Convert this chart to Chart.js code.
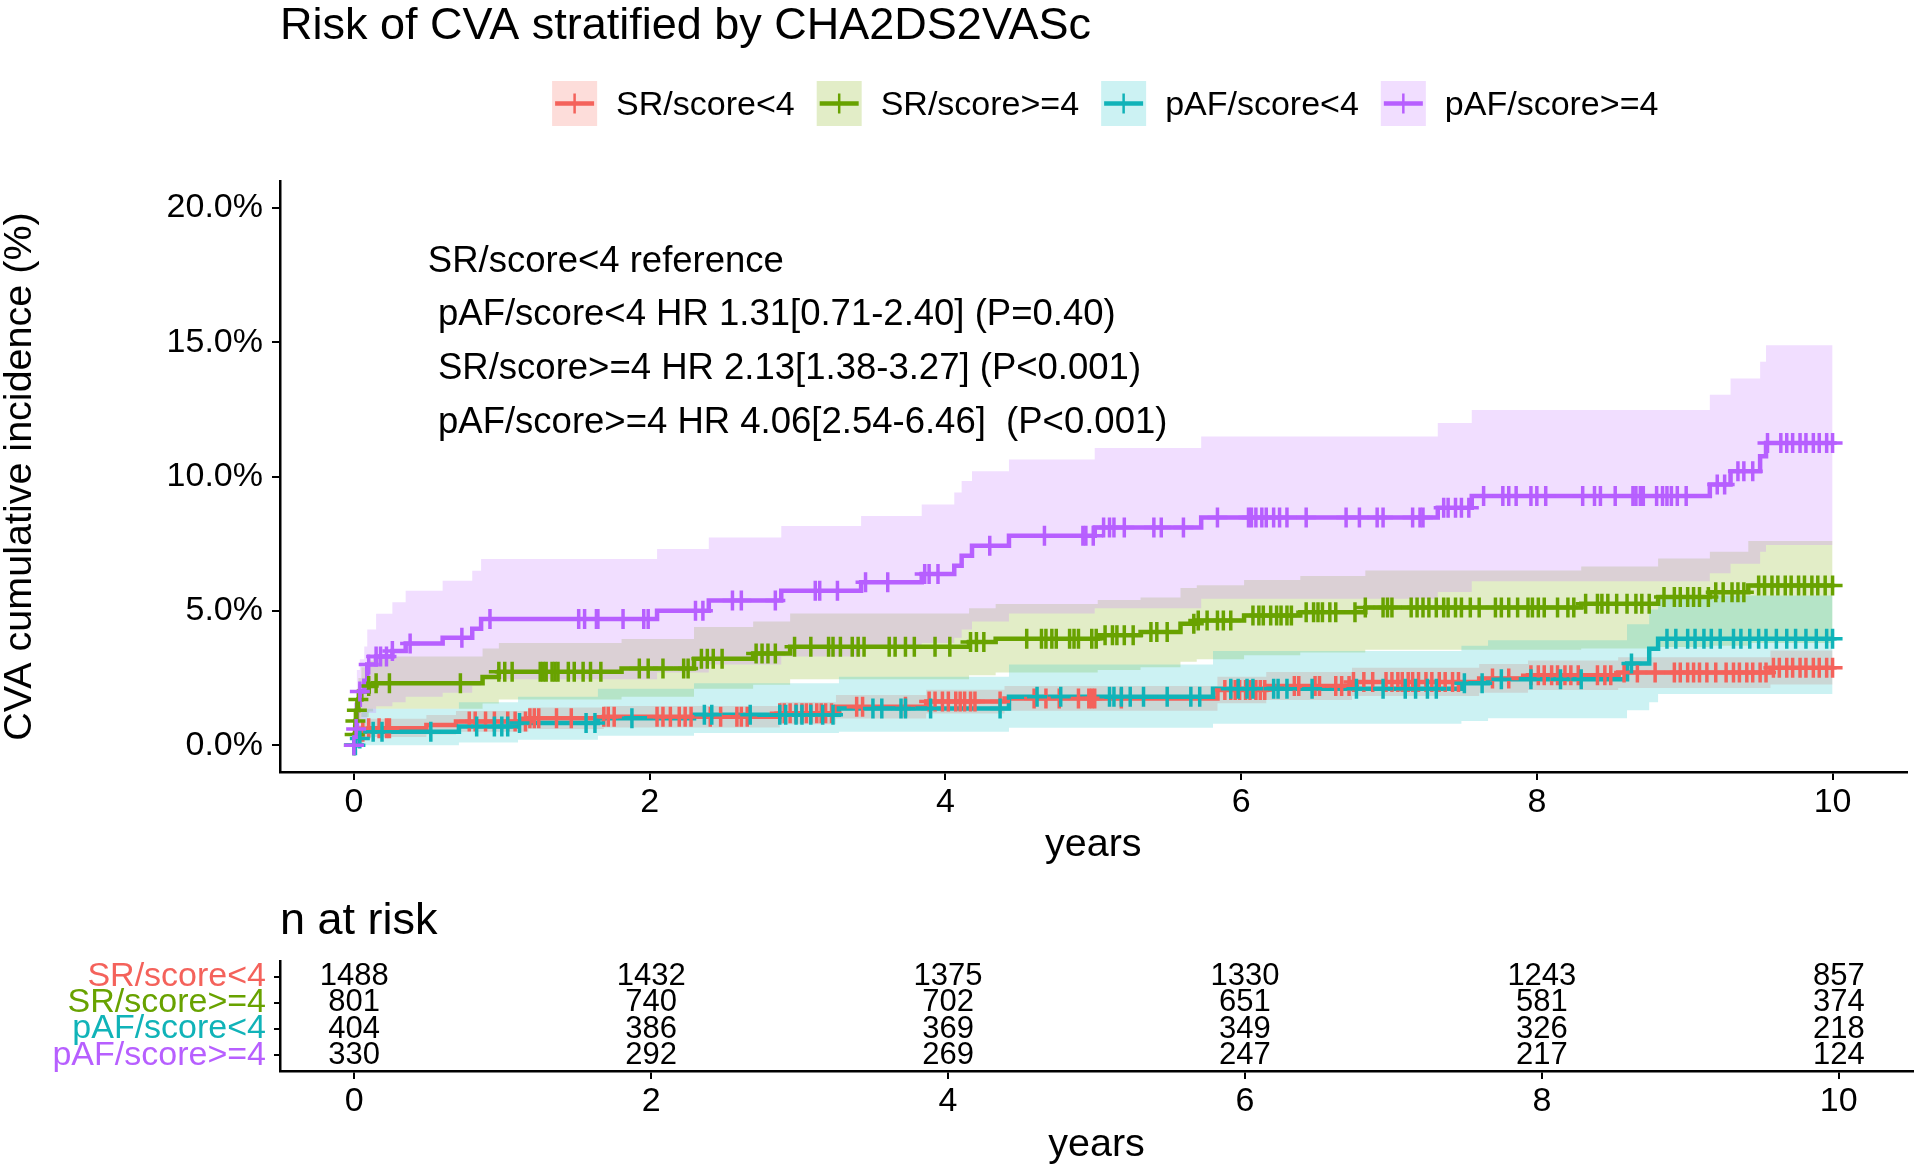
<!DOCTYPE html>
<html>
<head>
<meta charset="utf-8">
<script src="https://cdn.jsdelivr.net/npm/chart.js@4.4.0/dist/chart.umd.min.js"></script>
<style>
  html, body { margin: 0; padding: 0; background: #fff; }
  #wrap { position: relative; width: 1920px; height: 1171px; overflow: hidden; }
  #main { position: absolute; left: 0; top: 0; }
  #risk { position: absolute; left: 0; top: 880px; }
</style>
</head>
<body>
<div id="wrap">
  <canvas id="main" width="1920" height="870"></canvas>
  <canvas id="risk" width="1920" height="291"></canvas>
</div>
<script>
// ---- data (cumulative incidence in %, time in years) ----
const groupNames = ['SR/score<4', 'SR/score>=4', 'pAF/score<4', 'pAF/score>=4'];

const redTime = [0, 0.01, 0.03, 0.06, 0.1, 0.49, 0.69, 1.18, 1.69, 2.88, 3.26, 3.87, 4.4, 5.84, 6.17, 6.75, 7.61, 7.94, 8.55, 9.58, 10];
const redEst  = [0, 0.15, 0.35, 0.5, 0.63, 0.75, 0.88, 1.0, 1.06, 1.19, 1.43, 1.62, 1.74, 2.05, 2.2, 2.35, 2.48, 2.6, 2.7, 2.88, 2.88];
const redHi   = [0, 0.4, 0.7, 0.85, 0.98, 1.12, 1.27, 1.4, 1.46, 1.6, 1.87, 2.06, 2.2, 2.55, 2.72, 2.88, 3.02, 3.15, 3.27, 3.52, 3.52];
const redLo   = [0, 0, 0.08, 0.18, 0.3, 0.4, 0.5, 0.6, 0.66, 0.78, 0.99, 1.18, 1.28, 1.56, 1.68, 1.83, 1.95, 2.05, 2.13, 2.26, 2.26];

const greenTime = [0, 0.005, 0.01, 0.02, 0.03, 0.05, 0.1, 0.13, 0.87, 0.98, 1.81, 2.3, 2.7, 2.95, 4.16, 4.34, 5.03, 5.32, 5.59, 5.7, 6.02, 6.4, 6.84, 8.3, 8.82, 9.17, 9.43, 10];
const greenEst  = [0, 0.4, 0.9, 1.3, 1.7, 2.0, 2.2, 2.3, 2.54, 2.73, 2.85, 3.22, 3.41, 3.66, 3.84, 3.96, 4.09, 4.21, 4.52, 4.64, 4.83, 4.95, 5.12, 5.26, 5.51, 5.69, 5.94, 5.94];
const greenHi   = [0, 0.9, 1.6, 2.1, 2.5, 2.9, 3.15, 3.3, 3.6, 3.8, 3.95, 4.4, 4.6, 4.9, 5.1, 5.25, 5.4, 5.5, 5.85, 5.95, 6.15, 6.3, 6.5, 6.65, 6.95, 7.2, 7.6, 7.6];
const greenLo   = [0, 0, 0.2, 0.5, 0.8, 1.05, 1.25, 1.35, 1.55, 1.7, 1.8, 2.1, 2.25, 2.45, 2.6, 2.7, 2.8, 2.9, 3.1, 3.2, 3.35, 3.45, 3.55, 3.6, 3.65, 3.7, 3.8, 3.8];

const cyanTime = [0, 0.02, 0.05, 0.71, 1.11, 1.65, 2.3, 3.28, 4.43, 5.81, 7.49, 7.67, 8.61, 8.76, 8.82, 10];
const cyanEst  = [0, 0.25, 0.5, 0.69, 0.82, 1.0, 1.13, 1.36, 1.8, 2.1, 2.3, 2.45, 3.04, 3.59, 3.96, 3.96];
const cyanHi   = [0, 0.75, 1.35, 1.6, 1.8, 2.1, 2.3, 2.55, 3.0, 3.5, 3.7, 3.9, 4.5, 5.05, 5.57, 5.57];
const cyanLo   = [0, 0, 0, 0.1, 0.2, 0.35, 0.45, 0.5, 0.65, 0.8, 0.9, 1.0, 1.3, 1.6, 1.9, 1.9];

const purpleTime = [0, 0.01, 0.02, 0.04, 0.07, 0.09, 0.15, 0.26, 0.35, 0.6, 0.8, 0.86, 2.05, 2.4, 2.89, 3.43, 3.84, 4.06, 4.11, 4.18, 4.43, 5.01, 5.73, 7.33, 7.56, 9.17, 9.31, 9.51, 9.55, 10];
const purpleEst  = [0, 0.6, 1.5, 2.0, 2.4, 3.0, 3.3, 3.5, 3.78, 4.0, 4.33, 4.7, 5.0, 5.38, 5.75, 6.06, 6.37, 6.68, 7.05, 7.42, 7.79, 8.1, 8.47, 8.84, 9.27, 9.7, 10.2, 10.75, 11.25, 11.25];
const purpleHi   = [0, 1.5, 2.8, 3.2, 3.67, 4.3, 4.89, 5.32, 5.75, 6.12, 6.49, 6.93, 7.3, 7.73, 8.16, 8.53, 8.96, 9.4, 9.83, 10.2, 10.63, 11.06, 11.49, 11.99, 12.48, 13.04, 13.65, 14.27, 14.89, 14.89];
const purpleLo   = [0, 0, 0.3, 0.6, 0.85, 1.2, 1.45, 1.6, 1.8, 1.95, 2.2, 2.45, 2.7, 3.0, 3.3, 3.6, 3.8, 4.0, 4.3, 4.6, 4.9, 5.1, 5.45, 5.7, 6.1, 6.4, 6.75, 7.2, 7.45, 7.45];

// censoring times
const redCensor = [0.06, 0.1, 0.17, 0.22, 0.24, 0.78, 0.82, 0.89, 0.95, 1.04, 1.09, 1.16, 1.19, 1.22, 1.25, 1.37, 1.47, 1.69, 1.72, 1.76, 2.05, 2.09, 2.14, 2.2, 2.24, 2.28, 2.41, 2.48, 2.59, 2.62, 2.66, 2.88, 2.91, 2.95, 2.99, 3.03, 3.06, 3.09, 3.13, 3.16, 3.19, 3.23, 3.4, 3.44, 3.73, 3.89, 3.93, 3.98, 4.02, 4.07, 4.1, 4.13, 4.17, 4.2, 4.37, 4.6, 4.68, 4.77, 4.9, 4.97, 4.99, 5.01, 5.19, 5.89, 5.93, 5.96, 5.99, 6.03, 6.06, 6.1, 6.13, 6.16, 6.36, 6.39, 6.5, 6.53, 6.64, 6.68, 6.73, 6.76, 6.83, 6.89, 6.98, 7.02, 7.06, 7.09, 7.13, 7.16, 7.2, 7.25, 7.29, 7.34, 7.38, 7.43, 7.47, 7.7, 7.81, 7.96, 8.01, 8.05, 8.1, 8.14, 8.19, 8.23, 8.28, 8.41, 8.46, 8.5, 8.59, 8.68, 8.8, 8.93, 8.97, 9.02, 9.06, 9.1, 9.15, 9.21, 9.28, 9.33, 9.37, 9.42, 9.46, 9.51, 9.55, 9.6, 9.64, 9.69, 9.73, 9.78, 9.82, 9.87, 9.91, 9.96, 10];
const greenCensor = [0, 0.005, 0.01, 0.02, 0.03, 0.1, 0.15, 0.24, 0.72, 0.98, 1.02, 1.07, 1.26, 1.28, 1.3, 1.34, 1.36, 1.38, 1.45, 1.49, 1.55, 1.6, 1.67, 1.93, 1.99, 2.09, 2.23, 2.26, 2.35, 2.39, 2.43, 2.49, 2.72, 2.76, 2.8, 2.85, 2.98, 3.09, 3.21, 3.24, 3.29, 3.37, 3.41, 3.45, 3.62, 3.66, 3.73, 3.79, 3.93, 4.03, 4.17, 4.21, 4.26, 4.55, 4.65, 4.68, 4.72, 4.75, 4.84, 4.87, 4.9, 4.99, 5.02, 5.08, 5.13, 5.16, 5.21, 5.27, 5.39, 5.43, 5.5, 5.68, 5.71, 5.77, 5.84, 5.88, 5.93, 6.08, 6.12, 6.15, 6.2, 6.24, 6.27, 6.31, 6.34, 6.44, 6.49, 6.52, 6.55, 6.6, 6.64, 6.77, 6.84, 6.96, 6.99, 7.02, 7.15, 7.19, 7.23, 7.27, 7.32, 7.37, 7.4, 7.45, 7.49, 7.55, 7.61, 7.72, 7.76, 7.81, 7.87, 7.94, 7.97, 8.01, 8.05, 8.14, 8.21, 8.25, 8.33, 8.41, 8.44, 8.48, 8.54, 8.61, 8.67, 8.71, 8.76, 8.86, 8.93, 8.97, 9.02, 9.06, 9.1, 9.16, 9.21, 9.26, 9.32, 9.36, 9.4, 9.5, 9.54, 9.59, 9.63, 9.68, 9.72, 9.77, 9.81, 9.86, 9.9, 9.95, 10];
const cyanCensor = [0, 0.01, 0.04, 0.13, 0.19, 0.52, 0.83, 0.95, 1.0, 1.04, 1.12, 1.57, 1.63, 1.88, 2.37, 2.42, 2.68, 2.88, 2.92, 2.99, 3.03, 3.09, 3.17, 3.24, 3.51, 3.57, 3.7, 3.73, 3.9, 4.37, 4.62, 4.78, 5.11, 5.14, 5.19, 5.25, 5.34, 5.5, 5.66, 5.72, 5.93, 5.98, 6.04, 6.08, 6.22, 6.25, 6.31, 6.48, 6.78, 6.96, 7.11, 7.18, 7.26, 7.32, 7.51, 7.63, 7.76, 7.96, 8.16, 8.3, 8.64, 8.88, 8.94, 9.02, 9.07, 9.13, 9.18, 9.24, 9.33, 9.38, 9.44, 9.5, 9.55, 9.62, 9.69, 9.75, 9.82, 9.89, 9.96, 10];
const purpleCensor = [0, 0.015, 0.04, 0.1, 0.15, 0.18, 0.22, 0.26, 0.38, 0.73, 0.92, 1.52, 1.56, 1.64, 1.65, 1.82, 1.96, 1.99, 2.31, 2.36, 2.56, 2.62, 2.85, 3.12, 3.15, 3.27, 3.46, 3.61, 3.86, 3.89, 3.95, 4.3, 4.67, 4.93, 4.95, 5.0, 5.07, 5.11, 5.14, 5.21, 5.41, 5.46, 5.61, 5.84, 6.05, 6.07, 6.1, 6.14, 6.17, 6.22, 6.26, 6.31, 6.44, 6.71, 6.8, 6.92, 6.96, 7.16, 7.21, 7.23, 7.37, 7.4, 7.45, 7.49, 7.54, 7.64, 7.77, 7.81, 7.86, 7.96, 8.0, 8.06, 8.31, 8.39, 8.43, 8.53, 8.65, 8.67, 8.7, 8.72, 8.81, 8.85, 8.88, 8.91, 8.95, 9.01, 9.22, 9.27, 9.36, 9.4, 9.46, 9.56, 9.65, 9.69, 9.73, 9.78, 9.82, 9.87, 9.91, 9.96, 10];

// axis ticks
const xTicks = [0, 2, 4, 6, 8, 10];
const yTicks = [0, 5, 10, 15, 20];

// annotation text, anchored at (years, %)
const annotLines = ['SR/score<4 reference', ' pAF/score<4 HR 1.31[0.71-2.40] (P=0.40)', ' SR/score>=4 HR 2.13[1.38-3.27] (P<0.001)', ' pAF/score>=4 HR 4.06[2.54-6.46]  (P<0.001)'];
const annotX = 0.5;
const annotY = [18, 16, 14, 12];

// number at risk
const riskTimes = [0, 2, 4, 6, 8, 10];
const riskSRlow = [1488, 1432, 1375, 1330, 1243, 857];
const riskSRhigh = [801, 740, 702, 651, 581, 374];
const riskPAFlow = [404, 386, 369, 349, 326, 218];
const riskPAFhigh = [330, 292, 269, 247, 217, 124];

// ---- setup ----
const FONT = "'Liberation Sans', Arial, Helvetica, sans-serif";
Chart.defaults.font.family = FONT;
Chart.defaults.color = '#000';

const lineColors = ['#F4625B', '#68A200', '#10B3B8', '#B75FFF'];
const bandColors = ['rgba(248,118,109,0.25)', 'rgba(124,174,0,0.22)', 'rgba(0,191,196,0.2)', 'rgba(199,124,255,0.25)'];

const groups = [
  {time: redTime, est: redEst, hi: redHi, lo: redLo, cens: redCensor},
  {time: greenTime, est: greenEst, hi: greenHi, lo: greenLo, cens: greenCensor},
  {time: cyanTime, est: cyanEst, hi: cyanHi, lo: cyanLo, cens: cyanCensor},
  {time: purpleTime, est: purpleEst, hi: purpleHi, lo: purpleLo, cens: purpleCensor}
];
const riskRows = [riskSRlow, riskSRhigh, riskPAFlow, riskPAFhigh];

function pts(times, vals) {
  return times.map(function(t, i) { return {x: t, y: vals[i]}; });
}

// value of a step curve at time t
function stepValue(times, vals, t) {
  let v = vals[0];
  for (let i = 0; i < times.length; i++) {
    if (times[i] <= t) v = vals[i]; else break;
  }
  return v;
}

const datasets = [];
groups.forEach(function(g, i) {
  datasets.push({
    type: 'line', data: pts(g.time, g.hi), stepped: true,
    borderWidth: 0, borderColor: 'transparent', pointRadius: 0,
    backgroundColor: bandColors[i], fill: '+1', order: 40 - i
  });
  datasets.push({
    type: 'line', data: pts(g.time, g.lo), stepped: true,
    borderWidth: 0, borderColor: 'transparent', pointRadius: 0,
    fill: false, order: 40 - i
  });
});
groups.forEach(function(g, i) {
  datasets.push({
    type: 'line', label: groupNames[i], data: pts(g.time, g.est), stepped: true,
    borderColor: lineColors[i], borderWidth: 4.5, pointRadius: 0, fill: false,
    borderJoinStyle: 'miter', order: 20 - i
  });
});
groups.forEach(function(g, i) {
  datasets.push({
    type: 'scatter',
    data: g.cens.map(function(t) { return {x: t, y: stepValue(g.time, g.est, t)}; }),
    pointStyle: 'cross', pointRadius: 10, borderColor: lineColors[i], borderWidth: 3.5,
    showLine: false, order: 10 - i
  });
});

const mainDecor = {
  id: 'mainDecor',
  afterDraw(chart) {
    const ctx = chart.ctx;
    const area = chart.chartArea;
    const xs = chart.scales.x, ys = chart.scales.y;
    ctx.save();
    ctx.fillStyle = '#000';
    ctx.textAlign = 'left';
    ctx.textBaseline = 'alphabetic';
    ctx.font = '45px ' + FONT;
    ctx.fillText('Risk of CVA stratified by CHA2DS2VASc', area.left, 39);

    // legend, centred a little right of the panel centre
    ctx.font = '34px ' + FONT;
    const key = 45, gapKT = 19, gapTK = 22;
    const widths = groupNames.map(function(n) { return ctx.measureText(n).width; });
    let total = gapTK * (groupNames.length - 1);
    widths.forEach(function(w) { total += key + gapKT + w; });
    let lx = (area.left + area.right) / 2 + 12 - total / 2;
    const keyTop = 81;
    groupNames.forEach(function(name, i) {
      ctx.fillStyle = bandColors[i];
      ctx.fillRect(lx, keyTop, key, key);
      ctx.strokeStyle = lineColors[i];
      ctx.lineWidth = 4.5;
      ctx.beginPath();
      ctx.moveTo(lx + 3, keyTop + key / 2);
      ctx.lineTo(lx + key - 3, keyTop + key / 2);
      ctx.stroke();
      ctx.lineWidth = 2.5;
      ctx.beginPath();
      ctx.moveTo(lx + key / 2, keyTop + key / 2 - 10);
      ctx.lineTo(lx + key / 2, keyTop + key / 2 + 10);
      ctx.stroke();
      ctx.fillStyle = '#000';
      ctx.fillText(name, lx + key + gapKT, 115);
      lx += key + gapKT + widths[i] + gapTK;
    });

    // HR annotation
    ctx.font = '36.5px ' + FONT;
    ctx.textBaseline = 'middle';
    annotLines.forEach(function(s, i) {
      ctx.fillText(s, xs.getPixelForValue(annotX), ys.getPixelForValue(annotY[i]));
    });
    ctx.restore();
  }
};

new Chart(document.getElementById('main'), {
  type: 'line',
  data: { datasets: datasets },
  options: {
    responsive: false,
    animation: false,
    events: [],
    layout: { padding: { top: 181, right: 7, left: 0, bottom: 0 } },
    plugins: { legend: { display: false }, tooltip: { enabled: false } },
    scales: {
      x: {
        type: 'linear', min: -0.5, max: 10.5,
        afterBuildTicks: function(axis) { axis.ticks = xTicks.map(function(v) { return {value: v}; }); },
        afterFit: function(axis) { axis.height = 98; },
        grid: { display: true, drawOnChartArea: false, drawTicks: true, tickLength: 8, lineWidth: 2, color: '#000' },
        border: { display: true, color: '#000', width: 2.5 },
        ticks: { font: { size: 34 }, color: '#000', padding: 2, maxRotation: 0, autoSkip: false },
        title: { display: true, text: 'years', font: { size: 39.5 }, color: '#000', padding: { top: 0, bottom: 1 } }
      },
      y: {
        type: 'linear', min: -1, max: 21,
        afterBuildTicks: function(axis) { axis.ticks = yTicks.map(function(v) { return {value: v}; }); },
        afterFit: function(axis) { axis.width = 280; },
        grid: { display: true, drawOnChartArea: false, drawTicks: true, tickLength: 8, lineWidth: 2, color: '#000' },
        border: { display: true, color: '#000', width: 2.5 },
        ticks: { font: { size: 34 }, color: '#000', padding: 9, callback: function(v) { return v.toFixed(1) + '%'; } },
        title: { display: true, text: 'CVA cumulative incidence (%)', font: { size: 39.5, lineHeight: 1.0 }, color: '#000', padding: { top: 0, bottom: 0 } }
      }
    }
  },
  plugins: [mainDecor]
});

// ---- risk table ----
const riskDecor = {
  id: 'riskDecor',
  afterDraw(chart) {
    const ctx = chart.ctx;
    const xs = chart.scales.x, ys = chart.scales.y;
    ctx.save();
    ctx.fillStyle = '#000';
    ctx.textAlign = 'left';
    ctx.textBaseline = 'alphabetic';
    ctx.font = '45px ' + FONT;
    ctx.fillText('n at risk', chart.chartArea.left, 54);
    ctx.font = '31px ' + FONT;
    ctx.textAlign = 'center';
    ctx.textBaseline = 'middle';
    riskRows.forEach(function(row, r) {
      row.forEach(function(n, j) {
        ctx.fillText(String(n), xs.getPixelForValue(riskTimes[j]), ys.getPixelForValue(groupNames.length - r));
      });
    });
    ctx.restore();
  }
};

new Chart(document.getElementById('risk'), {
  type: 'scatter',
  data: { datasets: [] },
  options: {
    responsive: false,
    animation: false,
    events: [],
    layout: { padding: { top: 81, right: 7, left: 0, bottom: 0 } },
    plugins: { legend: { display: false }, tooltip: { enabled: false } },
    scales: {
      x: {
        type: 'linear', min: -0.5, max: 10.5,
        afterBuildTicks: function(axis) { axis.ticks = riskTimes.map(function(v) { return {value: v}; }); },
        afterFit: function(axis) { axis.height = 100; },
        grid: { display: true, drawOnChartArea: false, drawTicks: true, tickLength: 8, lineWidth: 2, color: '#000' },
        border: { display: true, color: '#000', width: 2.5 },
        ticks: { font: { size: 34 }, color: '#000', padding: 2, maxRotation: 0, autoSkip: false },
        title: { display: true, text: 'years', font: { size: 39.5 }, color: '#000', padding: { top: 0, bottom: 2 } }
      },
      y: {
        type: 'linear', min: 0.4, max: 4.6,
        afterBuildTicks: function(axis) { axis.ticks = [1, 2, 3, 4].map(function(v) { return {value: v}; }); },
        afterFit: function(axis) { axis.width = 280; },
        grid: { display: true, drawOnChartArea: false, drawTicks: true, tickLength: 6, lineWidth: 2, color: '#000' },
        border: { display: true, color: '#000', width: 2.5 },
        ticks: {
          font: { size: 34 }, padding: 8, autoSkip: false,
          color: function(c) { return lineColors[groupNames.length - c.tick.value]; },
          callback: function(v) { return groupNames[groupNames.length - v]; }
        }
      }
    }
  },
  plugins: [riskDecor]
});
</script>
</body>
</html>
